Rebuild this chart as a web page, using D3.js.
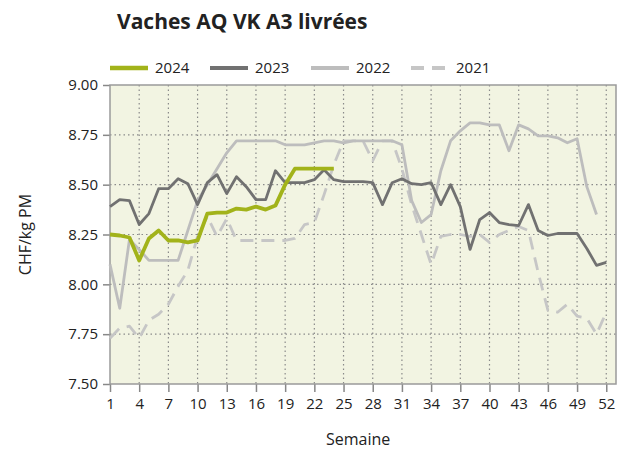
<!DOCTYPE html>
<html>
<head>
<meta charset="utf-8">
<script src="https://cdn.jsdelivr.net/npm/d3@7"></script>
<style>
  body { margin: 0; background: #fff; }
  #chart { width: 630px; height: 452px; }
  text { font-family: "Open Sans", sans-serif; fill: #222; }
</style>
</head>
<body>
<div id="chart"></div>
<script>
// semaines 1..52
const weeks = d3.range(1, 53);
const xTicks = [1, 4, 7, 10, 13, 16, 19, 22, 25, 28, 31, 34, 37, 40, 43, 46, 49, 52];
const yTicks = [7.50, 7.75, 8.00, 8.25, 8.50, 8.75, 9.00];

// prix CHF/kg PM
const v2024 = [8.25, 8.245, 8.235, 8.12, 8.23, 8.27, 8.22, 8.22, 8.21, 8.22, 8.355, 8.36,
  8.36, 8.38, 8.375, 8.39, 8.375, 8.395, 8.50, 8.58, 8.58, 8.58, 8.58, 8.58];
const v2023 = [8.39, 8.425, 8.42, 8.30, 8.355, 8.48, 8.48, 8.53, 8.505, 8.40, 8.51, 8.55,
  8.455, 8.54, 8.49, 8.425, 8.425, 8.57, 8.51, 8.51, 8.51, 8.525, 8.575, 8.525, 8.515, 8.515,
  8.515, 8.51, 8.40, 8.51, 8.53, 8.505, 8.50, 8.51, 8.40, 8.50, 8.39, 8.175, 8.325, 8.36,
  8.31, 8.30, 8.295, 8.40, 8.27, 8.245, 8.255, 8.255, 8.255, 8.18, 8.095, 8.11];
const v2022 = [8.10, 7.88, 8.225, 8.175, 8.12, 8.12, 8.12, 8.12, 8.27, 8.42, 8.50, 8.58,
  8.66, 8.72, 8.72, 8.72, 8.72, 8.72, 8.70, 8.70, 8.70, 8.71, 8.72, 8.72, 8.71, 8.72,
  8.72, 8.72, 8.72, 8.72, 8.70, 8.42, 8.31, 8.35, 8.57, 8.72, 8.77, 8.81, 8.81, 8.80,
  8.80, 8.67, 8.80, 8.78, 8.745, 8.745, 8.735, 8.71, 8.73, 8.49, 8.35];
const v2021 = [7.73, 7.78, 7.79, 7.73, 7.82, 7.85, 7.90, 7.99, 8.07, 8.24, 8.34, 8.24,
  8.33, 8.22, 8.22, 8.22, 8.22, 8.22, 8.22, 8.23, 8.30, 8.31, 8.45, 8.60, 8.72, 8.72,
  8.72, 8.62, 8.72, 8.72, 8.58, 8.40, 8.25, 8.10, 8.24, 8.25, 8.25, 8.24, 8.25, 8.21,
  8.25, 8.27, 8.29, 8.27, 8.06, 7.87, 7.86, 7.90, 7.84, 7.83, 7.75, 7.86];

const series = [
  { key: "2024", values: v2024, color: "#a2b31a", width: 3.8, dash: null },
  { key: "2023", values: v2023, color: "#717171", width: 2.8, dash: null },
  { key: "2022", values: v2022, color: "#bdbdbd", width: 2.8, dash: null },
  { key: "2021", values: v2021, color: "#c6c6c6", width: 2.8, dash: "13,8" }
];

const margin = { top: 85, right: 14, bottom: 68, left: 110 };
const W = 630, H = 452;
const width = W - margin.left - margin.right;
const height = H - margin.top - margin.bottom;

const svg = d3.select("#chart").append("svg")
  .attr("width", W)
  .attr("height", H);

// titre
svg.append("text")
  .attr("x", 117)
  .attr("y", 29)
  .style("font-size", "21px")
  .style("font-weight", "bold")
  .text("Vaches AQ VK A3 livrées");

const g = svg.append("g")
  .attr("transform", `translate(${margin.left},${margin.top})`);

const x = d3.scaleLinear().domain([1, 53]).range([0, width]);
const y = d3.scaleLinear().domain([7.5, 9]).range([height, 0]);

// fond du graphique
g.append("rect")
  .attr("width", width)
  .attr("height", height)
  .attr("fill", "#f2f4e2");

// grille pointillée
g.selectAll("line.hgrid").data(yTicks.slice(1, -1)).enter()
  .append("line")
  .attr("class", "hgrid")
  .attr("x1", 0).attr("x2", width)
  .attr("y1", d => y(d)).attr("y2", d => y(d))
  .attr("stroke", "#8a8a8a")
  .attr("stroke-width", 1.2)
  .attr("stroke-dasharray", "1.5,3");

g.selectAll("line.vgrid").data(xTicks.slice(1)).enter()
  .append("line")
  .attr("class", "vgrid")
  .attr("x1", d => x(d)).attr("x2", d => x(d))
  .attr("y1", 0).attr("y2", height)
  .attr("stroke", "#8a8a8a")
  .attr("stroke-width", 1.2)
  .attr("stroke-dasharray", "1.5,3");

// axes
const yAxis = g.append("g")
  .call(d3.axisLeft(y).tickValues(yTicks).tickFormat(d3.format(".2f")).tickSize(7).tickPadding(5));
const xAxis = g.append("g")
  .attr("transform", `translate(0,${height})`)
  .call(d3.axisBottom(x).tickValues(xTicks).tickSize(8).tickPadding(6));

[yAxis, xAxis].forEach(a => {
  a.select(".domain").remove();
  a.selectAll("line").attr("stroke", "#888").attr("stroke-width", 1.5);
  a.selectAll("text").style("font-size", "15px").attr("fill", "#222")
    .style("font-family", "'Open Sans', sans-serif");
});

// cadre
g.append("rect")
  .attr("width", width)
  .attr("height", height)
  .attr("fill", "none")
  .attr("stroke", "#9a9a9a")
  .attr("stroke-width", 1.5);

// courbes
const line = d3.line()
  .x((d, i) => x(weeks[i]))
  .y(d => y(d));

series.slice().reverse().forEach(s => {
  g.append("path")
    .datum(s.values)
    .attr("fill", "none")
    .attr("stroke", s.color)
    .attr("stroke-width", s.width)
    .attr("stroke-linejoin", "round")
    .attr("stroke-dasharray", s.dash)
    .attr("d", line);
});

// titres des axes
svg.append("text")
  .attr("text-anchor", "middle")
  .attr("transform", "rotate(-90)")
  .attr("x", -(margin.top + height / 2))
  .attr("y", 31)
  .style("font-size", "16px")
  .text("CHF/kg PM");

svg.append("text")
  .attr("text-anchor", "middle")
  .attr("x", margin.left + x(26.5))
  .attr("y", 445)
  .style("font-size", "16px")
  .text("Semaine");

// légende
const legendX = [110, 210, 311, 411];
const legend = svg.selectAll(".legend").data(series).enter()
  .append("g")
  .attr("class", "legend")
  .attr("transform", (d, i) => `translate(${legendX[i]},68)`);

legend.append("line")
  .attr("x1", 0).attr("x2", 38)
  .attr("stroke", d => d.color)
  .attr("stroke-width", d => d.key === "2024" ? 4.5 : 4)
  .attr("stroke-dasharray", d => d.dash);

legend.append("text")
  .attr("x", 45)
  .attr("dy", "0.35em")
  .style("font-size", "15px")
  .text(d => d.key);
</script>
</body>
</html>
